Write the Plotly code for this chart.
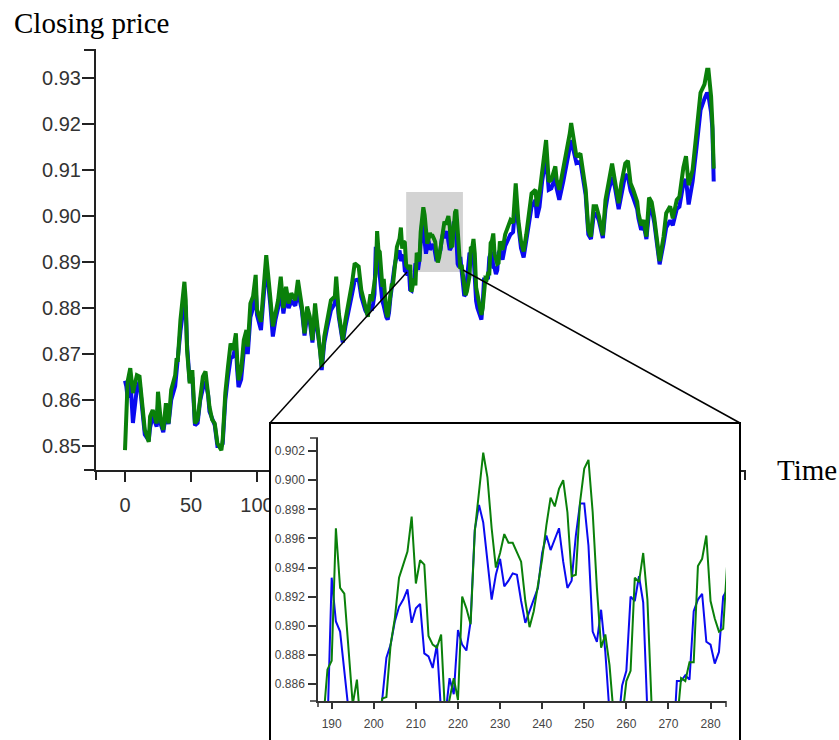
import plotly.graph_objects as go

# ---------------- data ----------------
time_a = [0, 1, 2, 4, 6, 9, 11, 13, 15, 18,
          19, 21, 24, 25, 27, 29, 31, 33, 35, 38,
          39, 40, 42, 45, 46, 47, 49, 51, 53, 55,
          57, 59, 61, 63, 64, 66, 68, 70, 73, 74,
          76, 78, 80, 82, 84, 85, 86, 88, 90, 92,
          93, 95, 97, 99, 100, 103, 105, 107, 110, 112,
          114, 116, 118, 120, 122, 124, 126, 129, 131, 134,
          136, 138, 140, 142, 144, 146, 148, 149, 151, 153,
          156, 159, 160, 162, 165, 167, 169, 172, 174, 177,
          179, 182, 184]
green_a = [0.8491, 0.8600, 0.8640, 0.8669, 0.8615, 0.8654, 0.8651, 0.8593, 0.8535, 0.8509,
           0.8564, 0.8578, 0.8549, 0.8618, 0.8557, 0.8535, 0.8593, 0.8549, 0.8622, 0.8654,
           0.8687, 0.8687, 0.8774, 0.8857, 0.8817, 0.8709, 0.8636, 0.8665, 0.8549, 0.8557,
           0.8615, 0.8651, 0.8662, 0.8615, 0.8585, 0.8557, 0.8549, 0.8506, 0.8491, 0.8513,
           0.8615, 0.8672, 0.8723, 0.8709, 0.8745, 0.8687, 0.8643, 0.8665, 0.8730, 0.8752,
           0.8716, 0.8810, 0.8825, 0.8872, 0.8796, 0.8770, 0.8840, 0.8915, 0.8825, 0.8760,
           0.8788, 0.8817, 0.8868, 0.8800, 0.8846, 0.8810, 0.8832, 0.8817, 0.8861, 0.8803,
           0.8745, 0.8803, 0.8781, 0.8730, 0.8810, 0.8752, 0.8716, 0.8672, 0.8738, 0.8774,
           0.8817, 0.8825, 0.8868, 0.8788, 0.8730, 0.8774, 0.8803, 0.8854, 0.8897, 0.8890,
           0.8839, 0.8803, 0.8781]
blue_a = [0.8642, 0.8630, 0.8605, 0.8648, 0.8550, 0.8625, 0.8640, 0.8575, 0.8525, 0.8512,
          0.8540, 0.8565, 0.8542, 0.8590, 0.8548, 0.8530, 0.8570, 0.8548, 0.8600, 0.8630,
          0.8660, 0.8670, 0.8750, 0.8815, 0.8800, 0.8720, 0.8640, 0.8650, 0.8545, 0.8550,
          0.8600, 0.8625, 0.8640, 0.8610, 0.8575, 0.8560, 0.8545, 0.8500, 0.8500, 0.8505,
          0.8600, 0.8650, 0.8690, 0.8695, 0.8720, 0.8665, 0.8628, 0.8645, 0.8705, 0.8725,
          0.8700, 0.8780, 0.8800, 0.8845, 0.8785, 0.8752, 0.8820, 0.8895, 0.8810, 0.8738,
          0.8775, 0.8800, 0.8840, 0.8788, 0.8825, 0.8800, 0.8815, 0.8805, 0.8835, 0.8795,
          0.8740, 0.8785, 0.8770, 0.8725, 0.8790, 0.8745, 0.8705, 0.8665, 0.8725, 0.8755,
          0.8795, 0.8810, 0.8840, 0.8780, 0.8725, 0.8760, 0.8785, 0.8830, 0.8860, 0.8862,
          0.8825, 0.8795, 0.8785]

time_b = list(range(185, 285))
green_b = [0.8810, 0.8830, 0.8815, 0.8835, 0.8870, 0.8876, 0.8967, 0.8926, 0.8922, 0.8887,
           0.8846, 0.8863, 0.8820, 0.8790, 0.8780, 0.8800, 0.8830, 0.8850, 0.8851, 0.8887,
           0.8905, 0.8933, 0.8942, 0.8951, 0.8975, 0.8929, 0.8945, 0.8942, 0.8893, 0.8887,
           0.8885, 0.8894, 0.8835, 0.8850, 0.8864, 0.8849, 0.8920, 0.8912, 0.8901, 0.8965,
           0.8992, 0.9019, 0.9002, 0.8967, 0.8940, 0.8950, 0.8963, 0.8957, 0.8957, 0.8951,
           0.8944, 0.8917, 0.8899, 0.8910, 0.8927, 0.8946, 0.8969, 0.8988, 0.8982, 0.8994,
           0.9000, 0.8978, 0.8934, 0.8935, 0.8985, 0.9008, 0.9014, 0.8978, 0.8926, 0.8885,
           0.8894, 0.8873, 0.8838, 0.8828, 0.8836, 0.8862, 0.8869, 0.8933, 0.8930, 0.8950,
           0.8918, 0.8845, 0.8830, 0.8810, 0.8790, 0.8785, 0.8800, 0.8830, 0.8864, 0.8862,
           0.8875, 0.8875, 0.8941, 0.8946, 0.8962, 0.8917, 0.8905, 0.8896, 0.8898, 0.8945]
blue_b = [0.8805, 0.8800, 0.8795, 0.8810, 0.8830, 0.8933, 0.8903, 0.8896, 0.8869, 0.8835,
          0.8815, 0.8805, 0.8790, 0.8780, 0.8775, 0.8790, 0.8820, 0.8848, 0.8878, 0.8887,
          0.8903, 0.8913, 0.8918, 0.8925, 0.8902, 0.8912, 0.8915, 0.8881, 0.8879, 0.8871,
          0.8887, 0.8840, 0.8838, 0.8864, 0.8853, 0.8897, 0.8887, 0.8883, 0.8903, 0.8966,
          0.8983, 0.8971, 0.8943, 0.8918, 0.8935, 0.8946, 0.8927, 0.8931, 0.8936, 0.8935,
          0.8917, 0.8902, 0.8910, 0.8918, 0.8926, 0.8950, 0.8962, 0.8952, 0.8960, 0.8967,
          0.8944, 0.8926, 0.8931, 0.8962, 0.8984, 0.8984, 0.8955, 0.8896, 0.8889, 0.8911,
          0.8882, 0.8840, 0.8826, 0.8830, 0.8859, 0.8869, 0.8920, 0.8917, 0.8934, 0.8916,
          0.8840, 0.8815, 0.8800, 0.8790, 0.8780, 0.8775, 0.8810, 0.8862, 0.8862, 0.8866,
          0.8863, 0.8910, 0.8918, 0.8922, 0.8889, 0.8887, 0.8874, 0.8882, 0.8920, 0.8925]

time_c = [286, 288, 292, 294, 296, 298, 300, 302, 304, 306,
          308, 311, 312, 314, 316, 319, 321, 323, 326, 327,
          329, 332, 335, 337, 338, 340, 342, 345, 347, 349,
          351, 353, 355, 357, 359, 362, 364, 366, 369, 371,
          374, 376, 379, 381, 383, 385, 388, 389, 391, 393,
          395, 397, 399, 401, 404, 405, 408, 410, 413, 415,
          418, 420, 423, 425, 427, 430, 433, 436, 439, 441,
          442, 444, 445, 446]
green_c = [0.8926, 0.8960, 0.8991, 0.8985, 0.9071, 0.8990, 0.8945, 0.8923, 0.8960, 0.9006,
           0.9049, 0.9057, 0.9021, 0.9049, 0.9100, 0.9165, 0.9075, 0.9079, 0.9108, 0.9079,
           0.9057, 0.9100, 0.9150, 0.9180, 0.9202, 0.9165, 0.9129, 0.9136, 0.9100, 0.9057,
           0.8970, 0.8955, 0.9021, 0.9021, 0.9000, 0.8958, 0.9035, 0.9071, 0.9114, 0.9079,
           0.9028, 0.9071, 0.9114, 0.9120, 0.9071, 0.9057, 0.9031, 0.9006, 0.8980, 0.8991,
           0.8955, 0.9040, 0.9030, 0.8995, 0.8926, 0.8902, 0.8955, 0.9006, 0.9021, 0.8995,
           0.9035, 0.9042, 0.9105, 0.9130, 0.9067, 0.9100, 0.9183, 0.9268, 0.9286, 0.9318,
           0.9318, 0.9260, 0.9200, 0.9103]
blue_c = [0.8905, 0.8935, 0.8960, 0.8965, 0.9030, 0.8970, 0.8930, 0.8910, 0.8945, 0.8985,
          0.9020, 0.9035, 0.8996, 0.9020, 0.9075, 0.9130, 0.9057, 0.9060, 0.9085, 0.9060,
          0.9035, 0.9075, 0.9120, 0.9150, 0.9165, 0.9140, 0.9115, 0.9118, 0.9085, 0.9045,
          0.8960, 0.8950, 0.9000, 0.9005, 0.8990, 0.8952, 0.9015, 0.9050, 0.9085, 0.9065,
          0.9015, 0.9050, 0.9090, 0.9085, 0.9055, 0.9040, 0.9015, 0.8995, 0.8970, 0.8980,
          0.8950, 0.9010, 0.9015, 0.8985, 0.8920, 0.8895, 0.8940, 0.8975, 0.8990, 0.8980,
          0.9015, 0.9020, 0.9070, 0.9080, 0.9025, 0.9075, 0.9150, 0.9230, 0.9255, 0.9268,
          0.9262, 0.9225, 0.9190, 0.9075]

time = time_a + time_b + time_c
green_series = green_a + green_b + green_c
blue_series = blue_a + blue_b + blue_c
assert len(time) == len(green_series) == len(blue_series)

main_yticks = [0.85, 0.86, 0.87, 0.88, 0.89, 0.90, 0.91, 0.92, 0.93]
main_xticks = [0, 50, 100, 150, 200, 250, 300, 350, 400, 450]
inset_xticks = [190, 200, 210, 220, 230, 240, 250, 260, 270, 280]
inset_yticks = [0.886, 0.888, 0.890, 0.892, 0.894, 0.896, 0.898, 0.900, 0.902]
zoom_box_time = [213, 256]
zoom_box_price = [0.8878, 0.9052]

# ---------------- layout helpers ----------------
W, H = 839, 740
def X(px):
    return px / W
def Y(py):
    return 1 - py / H

BLUE = "#0a0af0"
GREEN = "#0a800a"
TICKFONT = dict(family="Liberation Sans, Arial, sans-serif", size=20, color="#333333")
INSETFONT = dict(family="Liberation Sans, Arial, sans-serif", size=12, color="#444444")
SERIF = dict(family="Liberation Serif, Times New Roman, serif", size=29, color="#000000")

fig = go.Figure()
# main chart
fig.add_trace(go.Scatter(x=time, y=blue_series, mode="lines", xaxis="x", yaxis="y",
                         line=dict(color=BLUE, width=4), showlegend=False, hoverinfo="skip"))
fig.add_trace(go.Scatter(x=time, y=green_series, mode="lines", xaxis="x", yaxis="y",
                         line=dict(color=GREEN, width=4), showlegend=False, hoverinfo="skip"))
# empty trace so that the white inset panel subplot is created (between main and inset)
fig.add_trace(go.Scatter(x=[], y=[], mode="lines", xaxis="x2", yaxis="y2",
                         showlegend=False, hoverinfo="skip"))
# inset
fig.add_trace(go.Scatter(x=time, y=blue_series, mode="lines", xaxis="x3", yaxis="y3",
                         line=dict(color=BLUE, width=2), showlegend=False, hoverinfo="skip"))
fig.add_trace(go.Scatter(x=time, y=green_series, mode="lines", xaxis="x3", yaxis="y3",
                         line=dict(color=GREEN, width=2), showlegend=False, hoverinfo="skip"))

fig.update_layout(
    width=W, height=H,
    margin=dict(l=0, r=0, t=0, b=0),
    paper_bgcolor="white", plot_bgcolor="white",
    showlegend=False,
    xaxis=dict(domain=[X(96), X(745)], range=[-21.97, 469.7], anchor="y",
               showline=True, linecolor="#222222", linewidth=2,
               ticks="outside", ticklen=10, tickwidth=2, tickcolor="#222222",
               tickvals=main_xticks, tickfont=TICKFONT, ticklabelstandoff=6,
               showgrid=False, zeroline=False, fixedrange=True),
    yaxis=dict(domain=[Y(470), Y(50)], range=[0.84478, 0.93609], anchor="x",
               showline=True, linecolor="#222222", linewidth=2,
               ticks="outside", ticklen=12, tickwidth=2, tickcolor="#222222",
               tickvals=main_yticks, tickformat=".2f", tickfont=TICKFONT,
               ticklabelstandoff=-3, showgrid=False, zeroline=False, fixedrange=True),
    # white panel behind the inset
    xaxis2=dict(domain=[X(270), X(740)], range=[0, 1], anchor="y2", showline=False,
                showticklabels=False, ticks="", showgrid=False, zeroline=False, fixedrange=True),
    yaxis2=dict(domain=[0, Y(423)], range=[0, 1], anchor="x2", showline=False,
                showticklabels=False, ticks="", showgrid=False, zeroline=False, fixedrange=True),
    # inset axes
    xaxis3=dict(domain=[X(318), X(726)], range=[186.75, 283.67], anchor="y3",
                showline=True, linecolor="#333333", linewidth=1.5,
                ticks="outside", ticklen=6, tickwidth=1.5, tickcolor="#333333",
                tickvals=inset_xticks, tickfont=INSETFONT, ticklabelstandoff=5,
                showgrid=False, zeroline=False, fixedrange=True),
    yaxis3=dict(domain=[Y(701), Y(438)], range=[0.88483, 0.9029], anchor="x3",
                showline=True, linecolor="#333333", linewidth=1.5,
                ticks="outside", ticklen=8, tickwidth=1.5, tickcolor="#333333",
                tickvals=inset_yticks, tickformat=".3f", tickfont=INSETFONT,
                ticklabelstandoff=1, showgrid=False, zeroline=False, fixedrange=True),
)

shapes = []
# highlighted region on the main chart
shapes.append(dict(type="rect", xref="x", yref="y",
                   x0=zoom_box_time[0], x1=zoom_box_time[1],
                   y0=zoom_box_price[0], y1=zoom_box_price[1],
                   fillcolor="#d3d3d3", line=dict(width=0), layer="below"))
def pline(x0, y0, x1, y1, color="#000000", width=1.5):
    return dict(type="line", xref="paper", yref="paper",
                x0=X(x0), y0=Y(y0), x1=X(x1), y1=Y(y1),
                line=dict(color=color, width=width), layer="above")
# connector lines
shapes.append(pline(407, 272, 270, 423))
shapes.append(pline(463, 270, 740, 423))
# inset frame
shapes.append(dict(type="rect", xref="paper", yref="paper",
                   x0=X(270), x1=X(740), y0=Y(760), y1=Y(423),
                   line=dict(color="#000000", width=2), fillcolor="rgba(0,0,0,0)", layer="above"))
# main axis end caps
shapes.append(pline(84, 50, 96, 50, "#222222", 2))
shapes.append(pline(84, 470, 96, 470, "#222222", 2))
shapes.append(pline(96, 470, 96, 480, "#222222", 2))
shapes.append(pline(745, 470, 745, 480, "#222222", 2))
# inset axis end caps
shapes.append(pline(310, 438, 318, 438, "#333333", 1.5))
shapes.append(pline(310, 701, 318, 701, "#333333", 1.5))
shapes.append(pline(318, 701, 318, 707, "#333333", 1.5))
shapes.append(pline(726, 701, 726, 707, "#333333", 1.5))
fig.update_layout(shapes=shapes)

fig.add_annotation(text="Closing price", xref="paper", yref="paper", x=X(12), y=Y(23),
                   xanchor="left", yanchor="middle", showarrow=False, font=SERIF)
fig.add_annotation(text="Time", xref="paper", yref="paper", x=X(775), y=Y(470),
                   xanchor="left", yanchor="middle", showarrow=False, font=SERIF)

fig.write_html("out.html",
               config={"displayModeBar": False},
               post_script="document.body.style.margin='0px';document.body.style.overflow='hidden';")
